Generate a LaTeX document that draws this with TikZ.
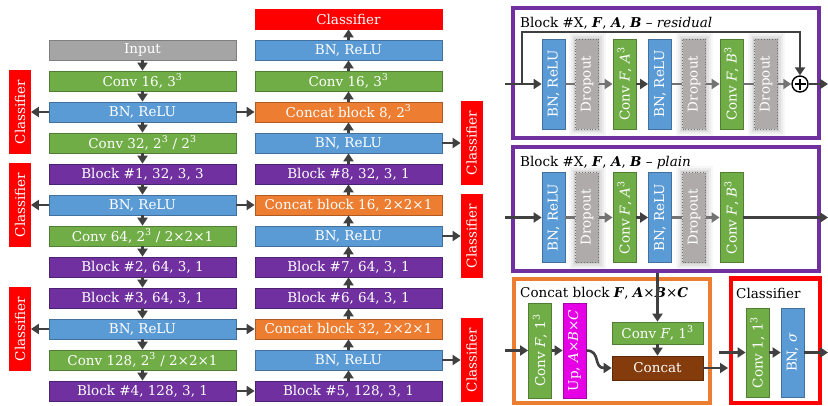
\documentclass[tikz,border=0pt]{standalone}
\usepackage{fontspec}
\usepackage{graphicx}
\setmainfont{DejaVu Serif}
\usetikzlibrary{arrows.meta,calc}
\definecolor{cgreen}{HTML}{70AD47}\definecolor{cgreend}{HTML}{507E32}
\definecolor{cblue}{HTML}{5B9BD5}\definecolor{cblued}{HTML}{41719C}
\definecolor{cpurple}{HTML}{7030A0}\definecolor{cpurpled}{HTML}{4E2272}
\definecolor{corange}{HTML}{ED7D31}\definecolor{coranged}{HTML}{AE5A21}
\definecolor{cgray}{HTML}{A5A5A5}\definecolor{cgrayd}{HTML}{7F7F7F}
\definecolor{cred}{HTML}{FF0000}
\definecolor{cmag}{HTML}{E600E6}\definecolor{cmagd}{HTML}{A800A8}
\definecolor{cbrown}{HTML}{843C0C}\definecolor{cbrownd}{HTML}{5E2B09}
\definecolor{cdrop}{HTML}{AFABAB}\definecolor{cdropd}{HTML}{707070}
\definecolor{carrow}{HTML}{404040}\definecolor{cgarrow}{HTML}{737373}
\tikzset{
  base/.style={draw, line width=0.8pt, text=white, inner sep=0pt, font=\fontsize{13.5}{15}\selectfont},
  hbox/.style={base, minimum width=187pt, minimum height=20pt},
  vbox/.style={base, minimum width=23pt, minimum height=90pt},
  cls/.style={base, fill=cred, draw=cred, minimum width=21pt, minimum height=83pt},
  fgreen/.style={fill=cgreen, draw=cgreend},
  fblue/.style={fill=cblue, draw=cblued},
  fpurple/.style={fill=cpurple, draw=cpurpled},
  forange/.style={fill=corange, draw=coranged},
  fgray/.style={fill=cgray, draw=cgrayd},
  fred/.style={fill=cred, draw=cred},
  fmag/.style={fill=cmag, draw=cmagd},
  fbrown/.style={fill=cbrown, draw=cbrownd},
  dropbox/.style={vbox, fill=cdrop, draw=cdropd, dotted, line width=1pt,
    preaction={draw=black, solid, opacity=0.03, line width=14pt},
    preaction={draw=black, solid, opacity=0.04, line width=10pt},
    preaction={draw=black, solid, opacity=0.05, line width=6pt},
    preaction={draw=black, solid, opacity=0.06, line width=3pt}},
  arr/.style={draw=carrow, line width=2.6pt, -{Triangle[width=10pt,length=8pt]}},
  garr/.style={draw=cgarrow, line width=2.6pt, -{Triangle[width=10pt,length=8pt]}},
  gline/.style={draw=cgarrow, line width=2.6pt},
  title/.style={anchor=west, inner sep=1pt, text=black, font=\fontsize{13.5}{15}\selectfont},
  plus/.style={circle, draw=black, fill=white, line width=1.4pt, minimum size=16pt, inner sep=0pt,
    path picture={\draw[line width=1.4pt] ([yshift=-2.5pt]path picture bounding box.north) -- ([yshift=2.5pt]path picture bounding box.south)
      ([xshift=2.5pt]path picture bounding box.west) -- ([xshift=-2.5pt]path picture bounding box.east);}}
}
\begin{document}
\begin{tikzpicture}[x=1pt,y=-1pt]
\useasboundingbox (0,0) rectangle (828,405);
\fill[white] (0,0) rectangle (828,405);
% ---------- left column ----------
\node[hbox,fgray]   (L0)  at (142.5,50)  {Input};
\node[hbox,fgreen]  (L1)  at (142.5,81)  {Conv 16, 3\textsuperscript{3}};
\node[hbox,fblue]   (L2)  at (142.5,112) {BN, ReLU};
\node[hbox,fgreen]  (L3)  at (142.5,143) {Conv 32, 2\textsuperscript{3} / 2\textsuperscript{3}};
\node[hbox,fpurple] (L4)  at (142.5,174) {Block \#1, 32, 3, 3};
\node[hbox,fblue]   (L5)  at (142.5,205) {BN, ReLU};
\node[hbox,fgreen]  (L6)  at (142.5,236) {Conv 64, 2\textsuperscript{3} / 2×2×1};
\node[hbox,fpurple] (L7)  at (142.5,267) {Block \#2, 64, 3, 1};
\node[hbox,fpurple] (L8)  at (142.5,298) {Block \#3, 64, 3, 1};
\node[hbox,fblue]   (L9)  at (142.5,329) {BN, ReLU};
\node[hbox,fgreen]  (L10) at (142.5,360) {Conv 128, 2\textsuperscript{3} / 2×2×1};
\node[hbox,fpurple] (L11) at (142.5,391) {Block \#4, 128, 3, 1};
\foreach \a/\b in {L0/L1,L1/L2,L2/L3,L3/L4,L4/L5,L5/L6,L6/L7,L7/L8,L8/L9,L9/L10,L10/L11}
  \draw[arr] (\a.south) -- (\b.north);
% left classifiers
\node[cls] (CL1) at (20,112) {\rotatebox{90}{Classifier}};
\node[cls] (CL2) at (20,205) {\rotatebox{90}{Classifier}};
\node[cls] (CL3) at (20,329) {\rotatebox{90}{Classifier}};
\draw[arr] (L2.west) -- (CL1.east |- L2.west);
\draw[arr] (L5.west) -- (CL2.east |- L5.west);
\draw[arr] (L9.west) -- (CL3.east |- L9.west);
% ---------- middle column ----------
\node[hbox,fred]    (M0)  at (348.5,19)  {Classifier};
\node[hbox,fblue]   (M1)  at (348.5,50)  {BN, ReLU};
\node[hbox,fgreen]  (M2)  at (348.5,81)  {Conv 16, 3\textsuperscript{3}};
\node[hbox,forange] (M3)  at (348.5,112) {Concat block 8, 2\textsuperscript{3}};
\node[hbox,fblue]   (M4)  at (348.5,143) {BN, ReLU};
\node[hbox,fpurple] (M5)  at (348.5,174) {Block \#8, 32, 3, 1};
\node[hbox,forange] (M6)  at (348.5,205) {Concat block 16, 2×2×1};
\node[hbox,fblue]   (M7)  at (348.5,236) {BN, ReLU};
\node[hbox,fpurple] (M8)  at (348.5,267) {Block \#7, 64, 3, 1};
\node[hbox,fpurple] (M9)  at (348.5,298) {Block \#6, 64, 3, 1};
\node[hbox,forange] (M10) at (348.5,329) {Concat block 32, 2×2×1};
\node[hbox,fblue]   (M11) at (348.5,360) {BN, ReLU};
\node[hbox,fpurple] (M12) at (348.5,391) {Block \#5, 128, 3, 1};
\foreach \a/\b in {M1/M0,M2/M1,M3/M2,M4/M3,M5/M4,M6/M5,M7/M6,M8/M7,M9/M8,M10/M9,M11/M10,M12/M11}
  \draw[arr] (\a.north) -- (\b.south);
\draw[arr] (L2.east) -- (M3.west);
\draw[arr] (L5.east) -- (M6.west);
\draw[arr] (L9.east) -- (M10.west);
\draw[arr] (L11.east) -- (M12.west);
% middle classifiers
\node[cls] (CM1) at (471.5,143) {\rotatebox{90}{Classifier}};
\node[cls] (CM2) at (471.5,236) {\rotatebox{90}{Classifier}};
\node[cls] (CM3) at (471.5,360) {\rotatebox{90}{Classifier}};
\draw[arr] (M4.east) -- (CM1.west |- M4.east);
\draw[arr] (M7.east) -- (CM2.west |- M7.east);
\draw[arr] (M11.east) -- (CM3.west |- M11.east);
% ---------- residual block ----------
\draw[draw=cpurple, line width=4pt] (513,8) rectangle (819,138);
\node[title] (tR) at (519,23) {Block \#X, \textbf{\textit{F}}, \textbf{\textit{A}}, \textbf{\textit{B}} – \textit{residual}};
\node[vbox,fblue]  (RB1) at (553.5,84) {\rotatebox{90}{BN, ReLU}};
\node[dropbox]     (RD1) at (587,84)   {\rotatebox{90}{Dropout}};
\node[vbox,fgreen] (RC1) at (624.5,84) {\rotatebox{90}{Conv \textit{F}, \textit{A}\textsuperscript{3}}};
\node[vbox,fblue]  (RB2) at (660,84)   {\rotatebox{90}{BN, ReLU}};
\node[dropbox]     (RD2) at (694,84)   {\rotatebox{90}{Dropout}};
\node[vbox,fgreen] (RC2) at (731.5,84) {\rotatebox{90}{Conv \textit{F}, \textit{B}\textsuperscript{3}}};
\node[dropbox]     (RD3) at (766,84)   {\rotatebox{90}{Dropout}};
\node[plus] (P) at (800,84) {};
\coordinate (rin) at (505,84);
\coordinate (rsk) at (522,84);
\coordinate (rtop) at (522,32);
\coordinate (rout) at (828,84);
\draw[arr] (rin) -- (RB1.west);
\draw[gline] (RB1.east) -- (RD1.west);
\draw[garr] (RD1.east) -- (RC1.west);
\draw[arr] (RC1.east) -- (RB2.west);
\draw[gline] (RB2.east) -- (RD2.west);
\draw[garr] (RD2.east) -- (RC2.west);
\draw[gline] (RC2.east) -- (RD3.west);
\draw[garr] (RD3.east) -- (P.west);
\draw[arr] (rsk) -- (rtop) -| (P.north);
\draw[arr] (P.east) -- (rout);
% ---------- plain block ----------
\draw[draw=cpurple, line width=4pt] (513,146.5) rectangle (819,271);
\node[title] (tP) at (519,163) {Block \#X, \textbf{\textit{F}}, \textbf{\textit{A}}, \textbf{\textit{B}} – \textit{plain}};
\node[vbox,fblue]  (PB1) at (553.5,217.5) {\rotatebox{90}{BN, ReLU}};
\node[dropbox]     (PD1) at (587,217.5)   {\rotatebox{90}{Dropout}};
\node[vbox,fgreen] (PC1) at (624.5,217.5) {\rotatebox{90}{Conv \textit{F}, \textit{A}\textsuperscript{3}}};
\node[vbox,fblue]  (PB2) at (660,217.5)   {\rotatebox{90}{BN, ReLU}};
\node[dropbox]     (PD2) at (694,217.5)   {\rotatebox{90}{Dropout}};
\node[vbox,fgreen] (PC2) at (731.5,217.5) {\rotatebox{90}{Conv \textit{F}, \textit{B}\textsuperscript{3}}};
\coordinate (pin) at (505,217.5);
\coordinate (pout) at (828,217.5);
\draw[arr] (pin) -- (PB1.west);
\draw[gline] (PB1.east) -- (PD1.west);
\draw[garr] (PD1.east) -- (PC1.west);
\draw[arr] (PC1.east) -- (PB2.west);
\draw[gline] (PB2.east) -- (PD2.west);
\draw[garr] (PD2.east) -- (PC2.west);
\draw[arr] (PC2.east) -- (pout);
% ---------- concat block ----------
\draw[draw=corange, line width=4pt] (513.5,278.5) rectangle (710,403);
\node[title] (tC) at (519,293) {Concat block \textbf{\textit{F}}, \textbf{\textit{A}}×\textbf{\textit{B}}×\textbf{\textit{C}}};
\node[vbox,fgreen,minimum height=95pt] (CC1) at (540,350.5) {\rotatebox{90}{Conv \textit{F}, 1\textsuperscript{3}}};
\node[vbox,fmag,minimum height=95pt]   (CU)  at (574.5,350.5) {\rotatebox{90}{Up, \textit{A}×\textit{B}×\textit{C}}};
\node[base,fgreen,minimum width=91pt,minimum height=22pt] (CC2) at (657.5,333) {Conv \textit{F}, 1\textsuperscript{3}};
\node[base,fbrown,minimum width=91pt,minimum height=24pt] (CCat) at (657.5,368) {Concat};
\coordinate (cin) at (505,350.5);
\coordinate (ctop) at (657.5,273);
\coordinate (cout) at (728,368);
\coordinate (cw1) at (601,350.5);
\coordinate (cw2) at (593,368);
\draw[arr] (cin) -- (CC1.west);
\draw[arr] (CC1.east) -- (CU.west);
\draw[arr] (CU.east) .. controls (cw1) and (cw2) .. (CCat.west);
\draw[arr] (ctop) -- (CC2.north);
\draw[arr] (CC2.south) -- (CCat.north);
\draw[arr] (CCat.east) -- (cout);
% ---------- classifier ----------
\draw[draw=cred, line width=4.5pt] (731,278.5) rectangle (820,403);
\node[title] (tK) at (735,293) {Classifier};
\node[vbox,fgreen,minimum height=89pt] (KC) at (757.5,352.5) {\rotatebox{90}{Conv 1, 1\textsuperscript{3}}};
\node[vbox,fblue,minimum height=89pt]  (KB) at (792.5,352.5) {\rotatebox{90}{BN, \textit{σ}}};
\coordinate (kin) at (719,352.5);
\coordinate (kout) at (828,352.5);
\draw[arr] (kin) -- (KC.west);
\draw[arr] (KC.east) -- (KB.west);
\draw[arr] (KB.east) -- (kout);
\end{tikzpicture}
\end{document}
